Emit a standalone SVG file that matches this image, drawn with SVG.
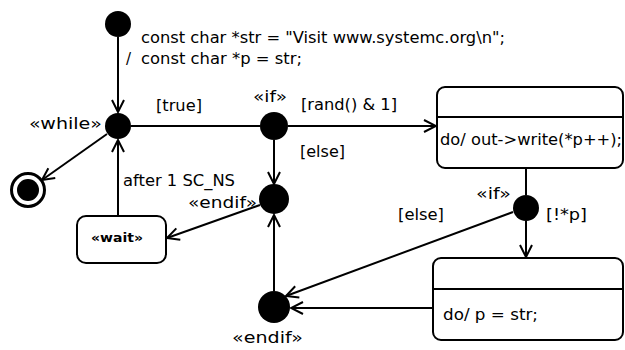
<svg xmlns="http://www.w3.org/2000/svg" width="625" height="350" viewBox="0 0 625 350">
<defs>
<marker id="arr" markerUnits="userSpaceOnUse" markerWidth="16" markerHeight="16" viewBox="0 0 16 16" refX="14" refY="8" orient="auto">
<path d="M2,2 L14,8 L2,14" fill="none" stroke="#000" stroke-width="2"/>
</marker>
</defs>
<style>
text{font-family:"DejaVu Sans","Liberation Sans",Arial,sans-serif;font-size:15px;fill:#000}
.dot{fill:#000}
.st{fill:#fff;stroke:#000;stroke-width:2}
.ln{fill:none;stroke:#000;stroke-width:2}
.c line,.c path{fill:none;stroke:#000;stroke-width:2}
.a{marker-end:url(#arr)}
</style>
<rect width="625" height="350" fill="#fff"/>
<g id="initial"><circle class="dot" cx="118" cy="24" r="13"/></g>
<g id="while"><circle class="dot" cx="118" cy="126" r="13"/><text x="29" y="129" textLength="73" lengthAdjust="spacingAndGlyphs">«while»</text></g>
<g id="if1"><circle class="dot" cx="274" cy="126" r="14"/><text x="253" y="102" textLength="34" lengthAdjust="spacingAndGlyphs">«if»</text></g>
<g id="endif1"><circle class="dot" cx="274" cy="199" r="15"/><text x="188" y="208" textLength="69" lengthAdjust="spacingAndGlyphs">«endif»</text></g>
<g id="endif2"><circle class="dot" cx="274" cy="307" r="16"/><text x="232" y="343" textLength="71" lengthAdjust="spacingAndGlyphs">«endif»</text></g>
<g id="if2"><circle class="dot" cx="526" cy="208" r="13"/><text x="476" y="199" textLength="35" lengthAdjust="spacingAndGlyphs">«if»</text></g>
<g id="final"><circle cx="28" cy="190" r="16.5" fill="#fff" stroke="#000" stroke-width="3"/><circle class="dot" cx="28" cy="190" r="11"/></g>
<g id="wait"><rect class="st" x="77" y="216" width="89" height="47" rx="9"/><text x="91" y="242" textLength="52" lengthAdjust="spacingAndGlyphs" style="font-size:12px;font-weight:bold">«wait»</text></g>
<g id="write"><rect class="st" x="437" y="87" width="186" height="81" rx="8"/><line class="ln" x1="437" y1="117" x2="623" y2="117"/><text x="440" y="145" textLength="182" lengthAdjust="spacingAndGlyphs">do/ out-&gt;write(*p++);</text></g>
<g id="reset"><rect class="st" x="433" y="258" width="190" height="82" rx="8"/><line class="ln" x1="433" y1="289" x2="623" y2="289"/><text x="443" y="320" textLength="95" lengthAdjust="spacingAndGlyphs">do/ p = str;</text></g>
<g id="connectors" class="c">
<line class="a" x1="118" y1="37" x2="118" y2="112"/>
<line x1="131" y1="126" x2="260" y2="126"/>
<line class="a" x1="288" y1="126" x2="436" y2="126"/>
<line class="a" x1="274" y1="140" x2="274" y2="184"/>
<line class="a" x1="260" y1="205" x2="167" y2="238"/>
<line class="a" x1="118" y1="216" x2="118" y2="140"/>
<line class="a" x1="107" y1="134" x2="42" y2="180"/>
<line class="a" x1="274" y1="291" x2="274" y2="215"/>
<line x1="526" y1="168" x2="526" y2="195"/>
<line class="a" x1="526" y1="221" x2="526" y2="257"/>
<line class="a" x1="513" y1="212" x2="286" y2="296"/>
<line class="a" x1="432" y1="308" x2="291" y2="308"/>
</g>
<g id="labels">
<text x="141" y="43" textLength="364" lengthAdjust="spacingAndGlyphs">const char *str = "Visit www.systemc.org\n";</text>
<text x="126" y="64">/</text>
<text x="141" y="64" textLength="161" lengthAdjust="spacingAndGlyphs">const char *p = str;</text>
<text x="156" y="111" textLength="46" lengthAdjust="spacingAndGlyphs">[true]</text>
<text x="301" y="110" textLength="96" lengthAdjust="spacingAndGlyphs">[rand() &amp; 1]</text>
<text x="300" y="157" textLength="45" lengthAdjust="spacingAndGlyphs">[else]</text>
<text x="123" y="186" textLength="112" lengthAdjust="spacingAndGlyphs">after 1 SC_NS</text>
<text x="398" y="220" textLength="46" lengthAdjust="spacingAndGlyphs">[else]</text>
<text x="546" y="220" textLength="41" lengthAdjust="spacingAndGlyphs">[!*p]</text>
</g>
</svg>
